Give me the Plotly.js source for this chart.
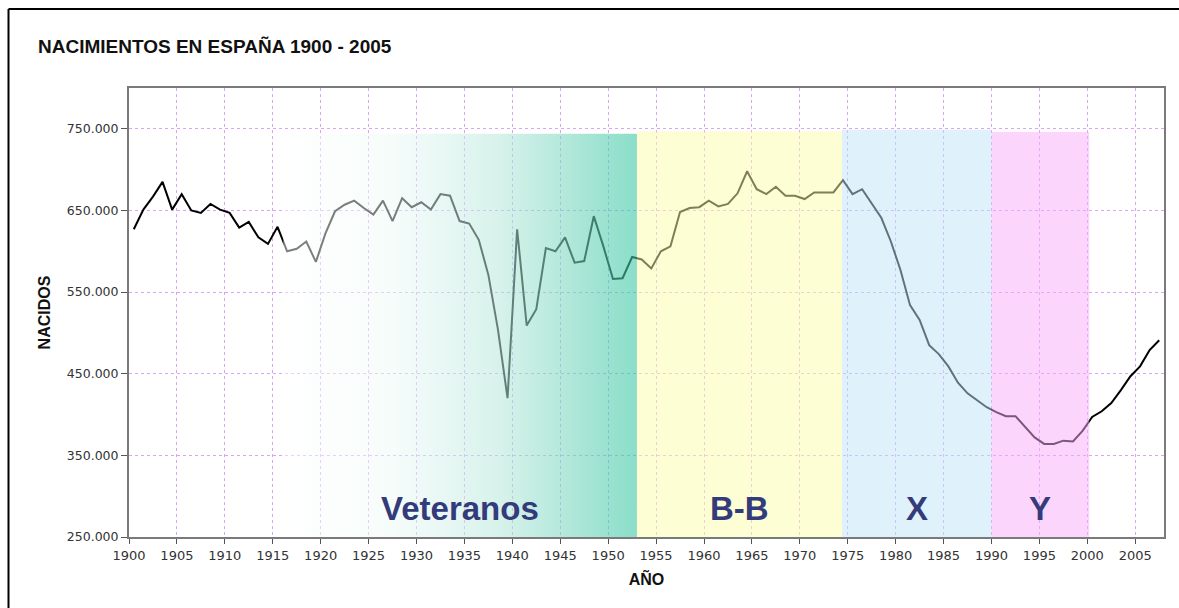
<!DOCTYPE html>
<html>
<head>
<meta charset="utf-8">
<script src="https://cdn.plot.ly/plotly-3.0.1.min.js"></script>
<style>
  html, body { margin: 0; padding: 0; background: #ffffff; }
  #chart { width: 1179px; height: 608px; }
</style>
</head>
<body>
<div id="chart"></div>
<script>
// ---- Data ----
const years = [
  1900, 1901, 1902, 1903, 1904, 1905, 1906, 1907, 1908, 1909,
  1910, 1911, 1912, 1913, 1914, 1915, 1916, 1917, 1918, 1919,
  1920, 1921, 1922, 1923, 1924, 1925, 1926, 1927, 1928, 1929,
  1930, 1931, 1932, 1933, 1934, 1935, 1936, 1937, 1938, 1939,
  1940, 1941, 1942, 1943, 1944, 1945, 1946, 1947, 1948, 1949,
  1950, 1951, 1952, 1953, 1954, 1955, 1956, 1957, 1958, 1959,
  1960, 1961, 1962, 1963, 1964, 1965, 1966, 1967, 1968, 1969,
  1970, 1971, 1972, 1973, 1974, 1975, 1976, 1977, 1978, 1979,
  1980, 1981, 1982, 1983, 1984, 1985, 1986, 1987, 1988, 1989,
  1990, 1991, 1992, 1993, 1994, 1995, 1996, 1997, 1998, 1999,
  2000, 2001, 2002, 2003, 2004, 2005, 2006, 2007
];
const births = [
  627000, 651000, 667000, 685000, 651000, 670000, 650000, 647000, 658000, 651000,
  647000, 629000, 636000, 617000, 609000, 630000, 600000, 603000, 612000, 587000,
  622000, 649000, 657000, 662000, 653000, 645000, 662000, 637000, 665000, 654000,
  660000, 651000, 670000, 668000, 637000, 634000, 614000, 571000, 504000, 420000,
  627000, 509000, 529000, 604000, 600000, 617000, 586000, 588000, 643000, 606000,
  566000, 567000, 593000, 590000, 579000, 600000, 606000, 648000, 653000, 654000,
  662000, 655000, 658000, 671000, 698000, 676000, 670000, 679000, 668000, 668000,
  664000, 672000, 672000, 672000, 687000, 670000, 676000, 659000, 641000, 612000,
  577000, 534000, 516000, 485000, 474000, 459000, 439000, 426000, 417000, 409000,
  403000, 398000, 398000, 385000, 372000, 364000, 364000, 368000, 367000, 380000,
  397000, 404000, 414000, 430000, 447000, 459000, 479000, 491000
];

// Generations (bands)
const genNames = ['Veteranos', 'B-B', 'X', 'Y'];
const genStart = [1915.6, 1952.5, 1973.9, 1989.5];
const genEnd   = [1952.5, 1973.9, 1989.5, 1999.7];
const genTop   = [744000, 747000, 749000, 746000];

// Tick labels
const xTickYears = [1900, 1905, 1910, 1915, 1920, 1925, 1930, 1935, 1940, 1945, 1950,
                    1955, 1960, 1965, 1970, 1975, 1980, 1985, 1990, 1995, 2000, 2005];
const yTickValues = [250000, 350000, 450000, 550000, 650000, 750000];

// ---- Styles ----
const yBase = 250000;
const bandStyles = [
  { gradient: [[0, 'rgba(255,255,255,0.5)'], [0.3, 'rgba(238,250,247,0.5)'],
               [0.6, 'rgba(185,232,220,0.55)'], [0.85, 'rgba(110,212,186,0.6)'],
               [1, 'rgba(60,200,165,0.6)']] },
  { color: 'rgba(253,253,172,0.5)' },
  { color: 'rgba(192,228,246,0.5)' },
  { color: 'rgba(247,172,247,0.5)' }
];
const labelColor = '#333b7a';
const gridColor = '#d8a4f4';

const traces = [{
  type: 'scatter', mode: 'lines',
  x: years, y: births,
  line: { color: '#000000', width: 2 },
  hoverinfo: 'skip', showlegend: false
}];

genNames.forEach((name, i) => {
  const t = {
    type: 'scatter', mode: 'lines',
    x: [genStart[i], genEnd[i], genEnd[i], genStart[i], genStart[i]],
    y: [yBase, yBase, genTop[i], genTop[i], yBase],
    fill: 'toself',
    line: { width: 0 },
    hoverinfo: 'skip', showlegend: false, name: name
  };
  if (bandStyles[i].gradient) {
    t.fillcolor = 'rgba(0,0,0,0)';
    t.fillgradient = { type: 'horizontal', colorscale: bandStyles[i].gradient };
  } else {
    t.fillcolor = bandStyles[i].color;
  }
  traces.push(t);
});

const annotations = genNames.map((name, i) => ({
  x: (genStart[i] + genEnd[i]) / 2, y: 285000,
  xref: 'x', yref: 'y',
  text: name, showarrow: false,
  font: { family: 'Liberation Sans, Arial, sans-serif', size: 33, color: labelColor, weight: 'bold' }
}));

const layout = {
  width: 1179, height: 608,
  paper_bgcolor: '#ffffff', plot_bgcolor: '#ffffff',
  separators: ',.',
  margin: { l: 129, r: 15, t: 88, b: 71 },
  showlegend: false,
  title: {
    text: '<b>NACIMIENTOS EN ESPAÑA 1900 - 2005</b>',
    x: 38 / 1179, xanchor: 'left', xref: 'container',
    y: 1 - 46 / 608, yanchor: 'middle', yref: 'container',
    font: { family: 'Liberation Sans, Arial, sans-serif', size: 19, color: '#111111' }
  },
  xaxis: {
    range: [1899.5, 2007.5],
    tickmode: 'array',
    tickvals: xTickYears.map(v => v - 0.5),
    ticktext: xTickYears.map(String),
    ticks: 'outside', ticklen: 5, tickcolor: '#555555',
    tickfont: { family: 'DejaVu Sans, Verdana, sans-serif', size: 13, color: '#333333' },
    showgrid: true, gridcolor: gridColor, gridwidth: 1, griddash: '3px,3px',
    zeroline: false,
    showline: true, linecolor: '#7a7a7a', linewidth: 2, mirror: true,
    title: { text: '<b>AÑO</b>', standoff: 12,
             font: { family: 'Liberation Sans, Arial, sans-serif', size: 16, color: '#111111' } }
  },
  yaxis: {
    range: [250000, 800000],
    tickmode: 'array', tickvals: yTickValues,
    tickformat: ',',
    ticks: 'outside', ticklen: 6, tickcolor: '#555555',
    tickfont: { family: 'DejaVu Sans, Verdana, sans-serif', size: 12.5, color: '#333333' },
    showgrid: true, gridcolor: gridColor, gridwidth: 1, griddash: '3px,3px',
    zeroline: false,
    showline: true, linecolor: '#7a7a7a', linewidth: 2, mirror: true,
    title: { text: '<b>NACIDOS</b>', standoff: 12,
             font: { family: 'Liberation Sans, Arial, sans-serif', size: 16, color: '#111111' } }
  },
  annotations: annotations,
  shapes: [
    { type: 'line', xref: 'paper', yref: 'paper',
      x0: (8.5 - 129) / 1035, x1: (8.5 - 129) / 1035,
      y0: (537 - 9) / 449, y1: (537 - 640) / 449,
      line: { color: '#000000', width: 2 } },
    { type: 'line', xref: 'paper', yref: 'paper',
      x0: (8.5 - 129) / 1035, x1: (1200 - 129) / 1035,
      y0: (537 - 9) / 449, y1: (537 - 9) / 449,
      line: { color: '#000000', width: 2 } }
  ]
};

Plotly.newPlot('chart', traces, layout, { displayModeBar: false, staticPlot: true });
</script>
</body>
</html>
